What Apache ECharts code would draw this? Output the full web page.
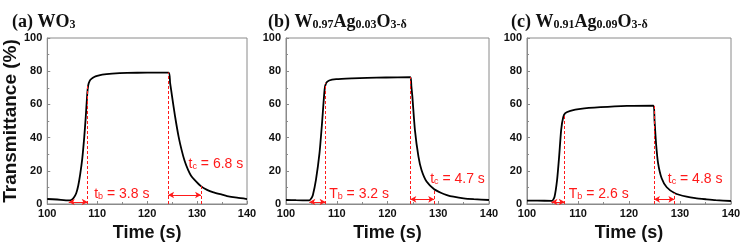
<!DOCTYPE html>
<html>
<head>
<meta charset="utf-8">
<script src="https://cdn.jsdelivr.net/npm/echarts@6/dist/echarts.min.js"></script>
<style>
  html, body { margin: 0; padding: 0; background: #fff; }
  #main { width: 744px; height: 247px; }
</style>
</head>
<body>
<div id="main"></div>
<script>
// curves: time (s) and transmittance (%)
const timeA = [100, 102, 104.3, 104.8, 105.3, 105.8, 106.2, 106.6, 107, 107.4, 107.7, 108, 108.2, 108.5, 108.9, 109.4, 110, 111, 113, 116, 120, 124.3,
  124.6, 125, 125.6, 126.3, 126.9, 127.5, 128.2, 128.8, 129.5, 130.7, 132, 133.3, 135, 136, 138, 140]
const transA = [3.0, 2.7, 2.2, 2.4, 3.8, 6.5, 11, 18, 27, 40, 52, 66, 71.5, 74.2, 75.5, 76.5, 77.2, 78.0, 78.6, 79.0, 79.1, 79.2,
  73, 64.7, 52.7, 40.6, 32.6, 26, 20.5, 17, 14.5, 10.9, 8.5, 7.0, 5.6, 4.8, 3.8, 3.0]

const timeB = [100, 102, 104.6, 105, 105.3, 105.9, 106.6, 107.1, 107.6, 107.9, 108.5, 109.9, 113, 116, 119.7, 124.5,
  124.7, 124.9, 125.4, 126.1, 126.7, 127.7, 129.2, 130.5, 131.7, 133, 135, 137, 140]
const transB = [2.4, 2.3, 2.2, 3.4, 5.4, 14.5, 30.6, 48.7, 68.8, 72.8, 74.4, 75.2, 75.7, 76.0, 76.2, 76.4,
  71, 64.7, 44.7, 28.5, 20.5, 13.5, 8.9, 6.8, 5.4, 4.4, 3.4, 2.9, 2.4]

const timeC = [100, 102, 104.9, 105.4, 105.9, 106.3, 106.7, 107.1, 107.5, 108.5, 110.5, 114.4, 119.6, 124.8,
  125, 125.3, 125.7, 126.4, 127.4, 129, 131.3, 133, 135.2, 137, 140]
const transC = [2.0, 2.0, 1.9, 4.4, 14.5, 28.5, 44.7, 52.3, 54.7, 56.1, 57.3, 58.3, 59.1, 59.3,
  50.7, 36.6, 24.6, 15.5, 10.1, 6.5, 4.4, 3.5, 2.8, 2.3, 1.8]

// response-time markers for each panel (a, b, c)
const riseStart = [104.3, 104.6, 104.8]
const riseEnd = [108.1, 107.8, 107.4]
const riseTop = [71, 72.8, 53]
const riseArrowY = [1.2, 1.2, 1.2]
const decayStart = [124.2, 124.5, 124.9]
const decayTop = [79.2, 76.4, 59.3]
const decayEnd = [130.8, 129.2, 128.9]
const decayEndTop = [10.8, 8.9, 6.6]
const decayArrowY = [5.4, 2.8, 2.8]
const riseLabelPos = [[109.4, 6.6], [108.5, 6.6], [108.2, 6.6]]
const decayLabelPos = [[128.3, 24.7], [128.4, 15.7], [127.6, 15.7]]
const riseNames = ['t', 'T', 'T']
const riseTimes = ['3.8', '3.2', '2.6']
const decayTimes = ['6.8', '4.7', '4.8']

const xTicks = [100, 140, 10]
const yTicks = [0, 100, 20]

const chart = echarts.init(document.getElementById('main'))

const red = '#ff1a1a'
const axisGrey = '#8a8a8a'
const serif = 'Liberation Serif'
const sans = 'Liberation Sans'

const grids = [
  {left: 42, right: 497, top: 38, bottom: 43},
  {left: 286, right: 255, top: 38, bottom: 43},
  {left: 527, right: 13, top: 38, bottom: 43}
]

const curves = [[timeA, transA], [timeB, transB], [timeC, transC]]

const titleRich = {
  m: {fontFamily: serif, fontWeight: 'bold', fontSize: 18, color: '#111', verticalAlign: 'bottom', lineHeight: 22},
  s: {fontFamily: serif, fontWeight: 'bold', fontSize: 12, color: '#111', verticalAlign: 'bottom', lineHeight: 11}
}
const titles = [
  {left: 7, top: 4, text: '{m|(a) WO}{s|3}'},
  {left: 263, top: 4, text: '{m|(b) W}{s|0.97}{m|Ag}{s|0.03}{m|O}{s|3-δ}'},
  {left: 506, top: 4, text: '{m|(c) W}{s|0.91}{m|Ag}{s|0.09}{m|O}{s|3-δ}'}
].map(t => ({...t, textStyle: {rich: titleRich}}))

const markRich = {
  t: {fontFamily: sans, fontSize: 14, color: red, verticalAlign: 'bottom', lineHeight: 16},
  s: {fontFamily: sans, fontSize: 9, color: red, verticalAlign: 'bottom', lineHeight: 8}
}

function markerLines(i){
  const dash = {type: [3, 2], color: red, width: 1}
  const solid = {type: 'solid', color: red, width: 1}
  return [
    [{coord: [riseEnd[i], 0], symbol: 'none', lineStyle: dash}, {coord: [riseEnd[i], riseTop[i]], symbol: 'none'}],
    [{coord: [decayStart[i], 0], symbol: 'none', lineStyle: dash}, {coord: [decayStart[i], decayTop[i]], symbol: 'none'}],
    [{coord: [decayEnd[i], 0], symbol: 'none', lineStyle: dash}, {coord: [decayEnd[i], decayEndTop[i]], symbol: 'none'}],
    [{coord: [riseStart[i], riseArrowY[i]], symbol: 'arrow', lineStyle: solid}, {coord: [riseEnd[i], riseArrowY[i]], symbol: 'arrow'}],
    [{coord: [decayStart[i], decayArrowY[i]], symbol: 'arrow', lineStyle: solid}, {coord: [decayEnd[i], decayArrowY[i]], symbol: 'arrow'}]
  ]
}

function markerLabels(i){
  const lab = text => ({show: true, position: [0, 0], align: 'left', verticalAlign: 'middle', formatter: text, rich: markRich})
  return [
    {coord: riseLabelPos[i], symbolSize: 0, label: lab('{t|' + riseNames[i] + '}{s|b}{t| = ' + riseTimes[i] + ' s}')},
    {coord: decayLabelPos[i], symbolSize: 0, label: lab('{t|t}{s|c}{t| = ' + decayTimes[i] + ' s}')}
  ]
}

const option = {
  animation: false,
  title: titles,
  grid: grids.map(g => ({...g, show: true, borderColor: axisGrey, borderWidth: 1, backgroundColor: 'transparent'})),
  xAxis: grids.map((g, i) => ({
    type: 'value', gridIndex: i,
    min: xTicks[0], max: xTicks[1], interval: xTicks[2],
    name: 'Time (s)', nameLocation: 'middle', nameGap: 17,
    nameTextStyle: {fontFamily: sans, fontWeight: 'bold', fontSize: 18, color: '#111'},
    axisLine: {lineStyle: {color: axisGrey, width: 1}},
    axisTick: {inside: true, length: 3, lineStyle: {color: axisGrey}},
    minorTick: {show: true, splitNumber: 2, length: 2, lineStyle: {color: axisGrey}},
    axisLabel: {fontFamily: sans, fontWeight: 'bold', fontSize: 11, color: '#111', margin: 4},
    splitLine: {show: false}
  })),
  yAxis: grids.map((g, i) => ({
    type: 'value', gridIndex: i,
    min: yTicks[0], max: yTicks[1], interval: yTicks[2],
    name: i === 0 ? 'Transmittance (%)' : '', nameLocation: 'middle', nameGap: 20,
    nameTextStyle: {fontFamily: sans, fontWeight: 'bold', fontSize: 19, color: '#111'},
    axisLine: {show: true, lineStyle: {color: axisGrey, width: 1}},
    axisTick: {show: true, inside: true, length: 3, lineStyle: {color: axisGrey}},
    minorTick: {show: true, splitNumber: 2, length: 2, lineStyle: {color: axisGrey}},
    axisLabel: {fontFamily: sans, fontWeight: 'bold', fontSize: 11, color: '#111', margin: 5},
    splitLine: {show: false}
  })),
  series: curves.map((c, i) => ({
    type: 'line', xAxisIndex: i, yAxisIndex: i,
    data: c[0].map((t, k) => [t, c[1][k]]),
    showSymbol: false, smooth: 0.2,
    lineStyle: {color: '#000', width: 1.8},
    z: 3,
    markLine: {silent: true, symbolSize: [5, 6], label: {show: false}, data: markerLines(i)},
    markPoint: {silent: true, symbol: 'circle', data: markerLabels(i)}
  }))
}

chart.setOption(option)
</script>
</body>
</html>
